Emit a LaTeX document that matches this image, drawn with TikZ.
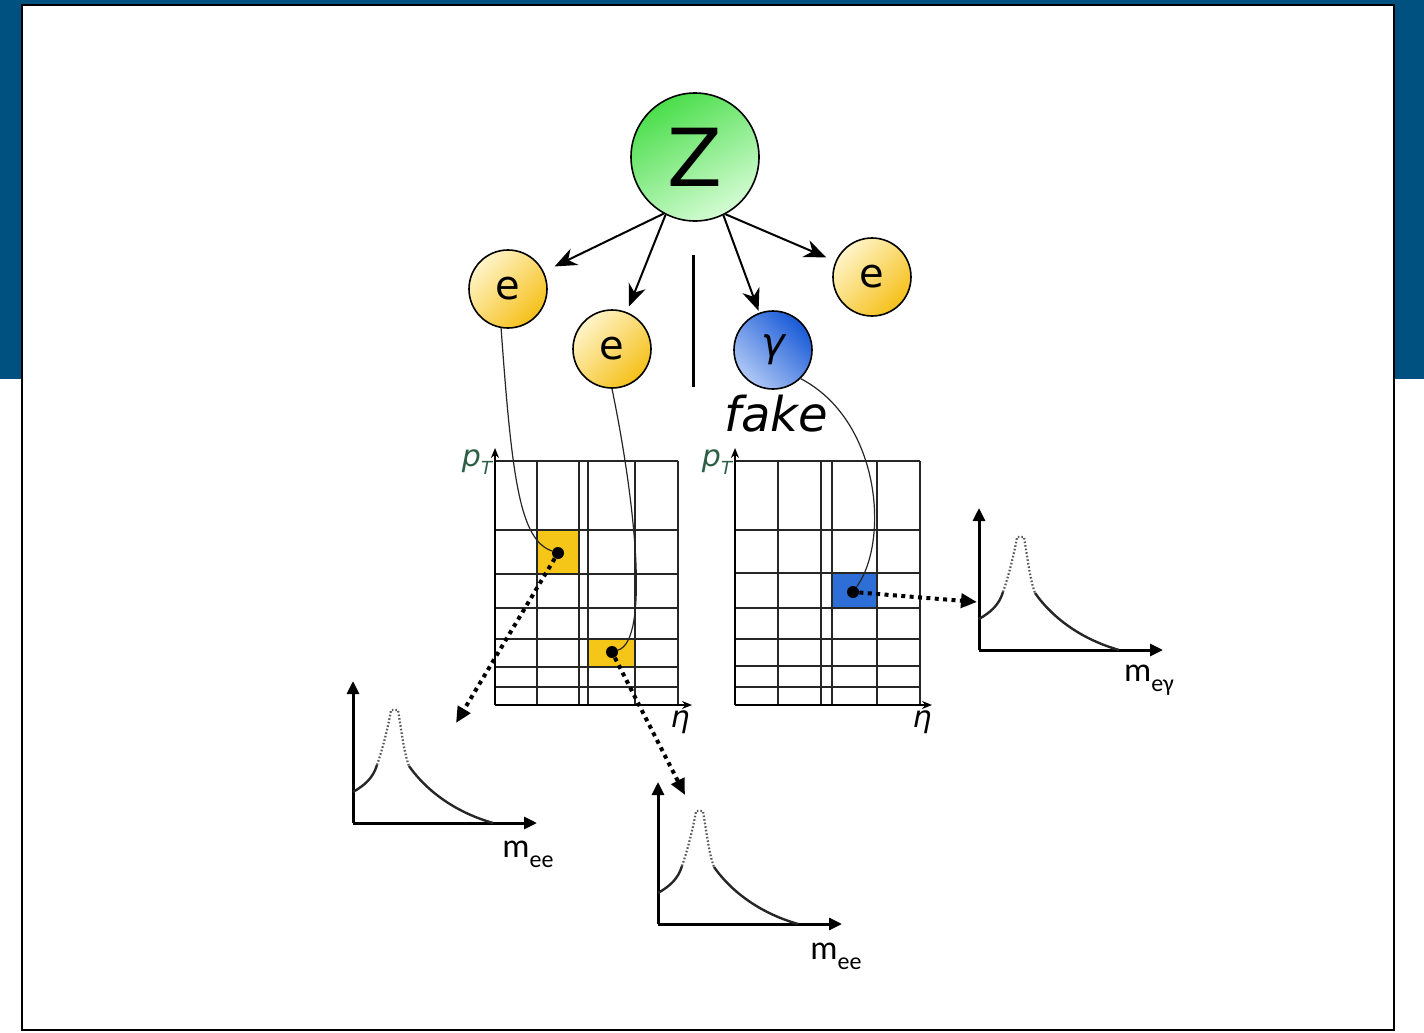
\documentclass[tikz,border=0pt]{standalone}
\usepackage{fontspec}
\setmainfont{DejaVu Sans}
\newfontfamily\carl{Carlito}
\usetikzlibrary{arrows.meta}
\definecolor{bandblue}{RGB}{0,80,128}
\definecolor{ylight}{RGB}{255,244,200}
\definecolor{ydark}{RGB}{245,192,25}
\definecolor{gdark}{RGB}{75,222,75}
\definecolor{glight}{RGB}{212,252,212}
\definecolor{bdark}{RGB}{25,90,215}
\definecolor{blight}{RGB}{175,200,245}
\definecolor{cellyellow}{RGB}{245,197,24}
\definecolor{cellblue}{RGB}{45,110,215}
\definecolor{ptgreen}{RGB}{45,95,70}
\tikzset{
 particle/.style={circle, draw=black, line width=0.8pt, inner sep=0pt, minimum size=39pt},
 ecirc/.style={particle, top color=ylight, bottom color=ydark, shading angle=45,
   font=\fontsize{20pt}{20pt}\selectfont},
 zcirc/.style={particle, minimum size=64pt, top color=gdark, bottom color=glight, shading angle=30,
   font=\fontsize{40pt}{40pt}\selectfont},
 gcirc/.style={particle, top color=bdark, bottom color=blight, shading angle=-45,
   font=\fontsize{20pt}{20pt}\selectfont\itshape},
 zarrow/.style={line width=1pt, -{Stealth[length=11pt,width=9pt,inset=3.5pt]}},
 track/.style={line width=0.6pt, black!85},
 dot/.style={circle, fill=black, inner sep=0pt, minimum size=6pt},
 dotarrow/.style={line width=2pt, dash pattern=on 2pt off 2.2pt, -{Triangle[length=8pt,width=7pt]}},
 gridline/.style={line width=0.7pt, black!85},
 axisthin/.style={line width=0.7pt, -{Stealth[length=5pt,width=4pt]}},
 axisthick/.style={line width=1.5pt, -{Triangle[length=6.5pt,width=6pt]}},
 masscurve/.style={line width=1.2pt, black!85},
 peakdots/.style={line width=1.1pt, black!65, dash pattern=on 0.8pt off 1pt},
 mlabel/.style={inner sep=0pt, font=\carl\fontsize{17pt}{17pt}\selectfont},
 axlabel/.style={inner sep=0pt, font=\fontsize{15pt}{15pt}\selectfont\itshape},
}
\newcommand{\massplot}[2]{%
 \begin{scope}[shift={(#1,#2)}]
  \draw[axisthick] (0,0) -- (0,-142);
  \draw[axisthick] (0,0) -- (184,0);
  \draw[masscurve] (0,-31) .. controls (12,-38) and (20,-45) .. (24,-58);
  \draw[peakdots] (24,-58) .. controls (30,-75) and (36,-100) .. (38,-113) -- (45,-113)
     .. controls (48,-95) and (51,-70) .. (56,-57);
  \draw[masscurve] (56,-57) .. controls (75,-30) and (105,-10) .. (140,0);
 \end{scope}}
\begin{document}
\begin{tikzpicture}[x=0.5pt,y=-0.5pt]
\useasboundingbox (0,0) rectangle (1424,1033);
\fill[white] (0,0) rectangle (1424,1033);
\fill[bandblue] (0,0) rectangle (1424,379);
\draw[line width=1pt, fill=white] (22,5) rectangle (1394,1030);

% grid cells
\fill[cellyellow] (537,530) rectangle (579,574);
\fill[cellyellow] (588,639) rectangle (636,667);
\fill[cellblue] (832,573) rectangle (877,608);
% left grid
\foreach \xx in {537,579,588,635,678} \draw[gridline] (\xx,461) -- (\xx,705);
\foreach \yy in {461,530,574,608,639,667,687} \draw[gridline] (495,\yy) -- (678,\yy);
\draw[axisthin] (495,705) -- (495,448);
\draw[axisthin] (495,705) -- (692,705);
\node[axlabel, text=ptgreen] (ptl) at (477,462) {p\raisebox{-0.25em}{\fontsize{9pt}{9pt}\selectfont T}};
\node[axlabel] (etal) at (680,722) {η};
% right grid
\foreach \xx in {778,821,832,877,920} \draw[gridline] (\xx,461) -- (\xx,705);
\foreach \yy in {461,530,573,608,639,666,687} \draw[gridline] (735,\yy) -- (920,\yy);
\draw[axisthin] (735,705) -- (735,448);
\draw[axisthin] (735,705) -- (932,705);
\node[axlabel, text=ptgreen] (ptr) at (717,462) {p\raisebox{-0.25em}{\fontsize{9pt}{9pt}\selectfont T}};
\node[axlabel] (etar) at (922,722) {η};

% particles
\node[zcirc] (Z) at (695,157) {Z};
\node[ecirc] (e1) at (508,289) {e};
\node[ecirc] (e2) at (612,349) {e};
\node[gcirc] (g) at (773,350) {γ};
\node[ecirc] (e3) at (872,277) {e};
\node[inner sep=0pt, font=\fontsize{24pt}{24pt}\selectfont\itshape] (fake) at (776,414) {fake};

\draw[zarrow, shorten >=6pt] (Z.241) -- (e1);
\draw[zarrow, shorten >=3pt] (Z.243) -- (e2);
\draw[zarrow, shorten >=1pt] (Z.296) -- (g);
\draw[zarrow, shorten >=5pt] (Z.298) -- (e3);
\draw[line width=1.5pt] (693,255) -- (693,387);

% dots
\node[dot] (d1) at (558,553) {};
\node[dot] (d2) at (612,652) {};
\node[dot] (d3) at (853,592) {};

% tracks
\draw[track] (e1.260) .. controls (512,480) and (520,540) .. (d1);
\draw[track] (e2.270) .. controls (635,500) and (650,640) .. (d2);
\draw[track] (g.314) .. controls (880,420) and (890,540) .. (d3);

% mass plots
\massplot{353}{823}
\massplot{658}{924}
\massplot{979}{650}
\node[mlabel] (m1) at (528,854) {m\raisebox{-0.3em}{\fontsize{12pt}{12pt}\selectfont ee}};
\node[mlabel] (m2) at (836,956) {m\raisebox{-0.3em}{\fontsize{12pt}{12pt}\selectfont ee}};
\node[mlabel] (m3) at (1149,680) {m\raisebox{-0.3em}{\fontsize{12pt}{12pt}\selectfont eγ}};

% dotted arrows
\coordinate (t1) at (456,723);
\coordinate (t2) at (685,795);
\coordinate (t3) at (977,602);
\draw[dotarrow] (d1) -- (t1);
\draw[dotarrow] (d2) -- (t2);
\draw[dotarrow] (d3) -- (t3);
\end{tikzpicture}
\end{document}
